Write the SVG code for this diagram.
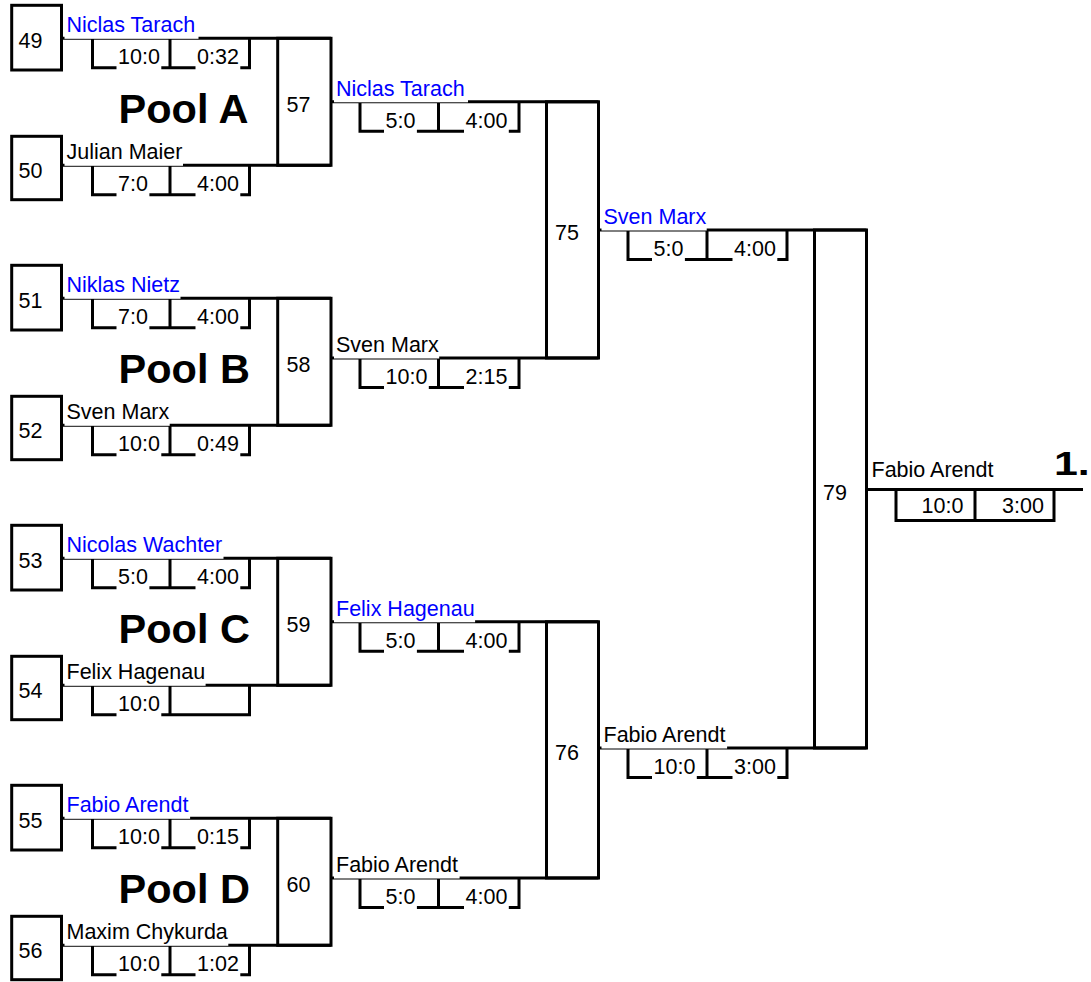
<svg xmlns="http://www.w3.org/2000/svg" width="1091" height="982" viewBox="0 0 1091 982">
<style>
.t{font-family:"Liberation Sans",Arial,sans-serif;font-size:21.5px;fill:#000}
.blue{fill:#0000ff}
.bg{fill:#fff}
.pool{font-weight:bold;font-size:41.5px}
.box{fill:none;stroke:#000;stroke-width:3}
.ln{fill:none;stroke:#000;stroke-width:3}
</style>
<rect width="1091" height="982" fill="#fff"/>

<g id="connectors" class="ln">
  <g id="round1">
    <path transform="translate(0,38.3)" d="M61.5 0H331M92.5 0V29.5H249.5V0M170 0V29.5"/>
    <path transform="translate(0,165.3)" d="M61.5 0H331M92.5 0V29.5H249.5V0M170 0V29.5"/>
    <path transform="translate(0,298.3)" d="M61.5 0H331M92.5 0V29.5H249.5V0M170 0V29.5"/>
    <path transform="translate(0,425.3)" d="M61.5 0H331M92.5 0V29.5H249.5V0M170 0V29.5"/>
    <path transform="translate(0,558.3)" d="M61.5 0H331M92.5 0V29.5H249.5V0M170 0V29.5"/>
    <path transform="translate(0,685.3)" d="M61.5 0H331M92.5 0V29.5H249.5V0M170 0V29.5"/>
    <path transform="translate(0,818.3)" d="M61.5 0H331M92.5 0V29.5H249.5V0M170 0V29.5"/>
    <path transform="translate(0,945.3)" d="M61.5 0H331M92.5 0V29.5H249.5V0M170 0V29.5"/>
  </g>
  <g id="round2">
    <path transform="translate(0,101.8)" d="M331 0H598.5M360 0V29.5H519V0M438.5 0V29.5"/>
    <path transform="translate(0,358)" d="M331 0H598.5M360 0V29.5H519V0M438.5 0V29.5"/>
    <path transform="translate(0,621.8)" d="M331 0H598.5M360 0V29.5H519V0M438.5 0V29.5"/>
    <path transform="translate(0,878)" d="M331 0H598.5M360 0V29.5H519V0M438.5 0V29.5"/>
  </g>
  <g id="round3">
    <path transform="translate(0,230)" d="M598.5 0H866.5M628 0V29.5H787V0M707 0V29.5"/>
    <path transform="translate(0,748)" d="M598.5 0H866.5M628 0V29.5H787V0M707 0V29.5"/>
  </g>
  <g id="final">
    <path d="M866.5 489.5H1083"/>
    <path d="M896 489.5V520.5H1054V489.5M975 489.5V520.5"/>
  </g>
</g>

<g id="seed-49"><rect class="box" x="11.7" y="5.3" width="49.8" height="64.7"/><text class="t" x="18.5" y="48.3">49</text></g>
<g id="seed-50"><rect class="box" x="11.7" y="136.3" width="49.8" height="63.4"/><text class="t" x="18.5" y="178.3">50</text></g>
<g id="seed-51"><rect class="box" x="11.7" y="265.3" width="49.8" height="64.7"/><text class="t" x="18.5" y="308.3">51</text></g>
<g id="seed-52"><rect class="box" x="11.7" y="396.3" width="49.8" height="63.4"/><text class="t" x="18.5" y="438.3">52</text></g>
<g id="seed-53"><rect class="box" x="11.7" y="525.3" width="49.8" height="64.7"/><text class="t" x="18.5" y="568.3">53</text></g>
<g id="seed-54"><rect class="box" x="11.7" y="656.3" width="49.8" height="63.4"/><text class="t" x="18.5" y="698.3">54</text></g>
<g id="seed-55"><rect class="box" x="11.7" y="785.3" width="49.8" height="64.7"/><text class="t" x="18.5" y="828.3">55</text></g>
<g id="seed-56"><rect class="box" x="11.7" y="916.3" width="49.8" height="63.4"/><text class="t" x="18.5" y="958.3">56</text></g>

<g id="match-57"><rect class="box" x="277.7" y="38.3" width="53.3" height="127"/><text class="t" x="286.5" y="111.8">57</text></g>
<g id="match-58"><rect class="box" x="277.7" y="298.3" width="53.3" height="127"/><text class="t" x="286.5" y="371.8">58</text></g>
<g id="match-59"><rect class="box" x="277.7" y="558.3" width="53.3" height="127"/><text class="t" x="286.5" y="631.8">59</text></g>
<g id="match-60"><rect class="box" x="277.7" y="818.3" width="53.3" height="127"/><text class="t" x="286.5" y="891.8">60</text></g>
<g id="match-75"><rect class="box" x="546.5" y="101.8" width="52" height="256.2"/><text class="t" x="555" y="240">75</text></g>
<g id="match-76"><rect class="box" x="546.5" y="621.8" width="52" height="256.2"/><text class="t" x="555" y="760">76</text></g>
<g id="match-79"><rect class="box" x="814.5" y="230" width="52" height="518"/><text class="t" x="823" y="499.5">79</text></g>

<g id="pools">
  <text class="t pool" x="118.5" y="122.8">Pool A</text>
  <text class="t pool" x="118.5" y="382.8">Pool B</text>
  <text class="t pool" x="118.5" y="642.8">Pool C</text>
  <text class="t pool" x="118.5" y="902.8">Pool D</text>
</g>

<g id="labels">
  <g transform="translate(0,38.3)">
    <rect class="bg" x="64.5" y="-24" width="134" height="24.5"/><text class="t blue" x="66.5" y="-6">Niclas Tarach</text>
    <rect class="bg" x="116.5" y="9" width="44.8" height="23"/><text class="t" x="118" y="26">10:0</text>
    <rect class="bg" x="195.5" y="9" width="44.8" height="23"/><text class="t" x="197" y="26">0:32</text>
  </g>
  <g transform="translate(0,165.3)">
    <rect class="bg" x="64.5" y="-24" width="118.5" height="24.5"/><text class="t" x="66.5" y="-6">Julian Maier</text>
    <rect class="bg" x="116.5" y="9" width="32.9" height="23"/><text class="t" x="118" y="26">7:0</text>
    <rect class="bg" x="195.5" y="9" width="44.8" height="23"/><text class="t" x="197" y="26">4:00</text>
  </g>
  <g transform="translate(0,298.3)">
    <rect class="bg" x="64.5" y="-24" width="116" height="24.5"/><text class="t blue" x="66.5" y="-6">Niklas Nietz</text>
    <rect class="bg" x="116.5" y="9" width="32.9" height="23"/><text class="t" x="118" y="26">7:0</text>
    <rect class="bg" x="195.5" y="9" width="44.8" height="23"/><text class="t" x="197" y="26">4:00</text>
  </g>
  <g transform="translate(0,425.3)">
    <rect class="bg" x="64.5" y="-24" width="105.2" height="24.5"/><text class="t" x="66.5" y="-6">Sven Marx</text>
    <rect class="bg" x="116.5" y="9" width="44.8" height="23"/><text class="t" x="118" y="26">10:0</text>
    <rect class="bg" x="195.5" y="9" width="44.8" height="23"/><text class="t" x="197" y="26">0:49</text>
  </g>
  <g transform="translate(0,558.3)">
    <rect class="bg" x="64.5" y="-24" width="159" height="24.5"/><text class="t blue" x="66.5" y="-6">Nicolas Wachter</text>
    <rect class="bg" x="116.5" y="9" width="32.9" height="23"/><text class="t" x="118" y="26">5:0</text>
    <rect class="bg" x="195.5" y="9" width="44.8" height="23"/><text class="t" x="197" y="26">4:00</text>
  </g>
  <g transform="translate(0,685.3)">
    <rect class="bg" x="64.5" y="-24" width="141.1" height="24.5"/><text class="t" x="66.5" y="-6">Felix Hagenau</text>
    <rect class="bg" x="116.5" y="9" width="44.8" height="23"/><text class="t" x="118" y="26">10:0</text>
  </g>
  <g transform="translate(0,818.3)">
    <rect class="bg" x="64.5" y="-24" width="125.6" height="24.5"/><text class="t blue" x="66.5" y="-6">Fabio Arendt</text>
    <rect class="bg" x="116.5" y="9" width="44.8" height="23"/><text class="t" x="118" y="26">10:0</text>
    <rect class="bg" x="195.5" y="9" width="44.8" height="23"/><text class="t" x="197" y="26">0:15</text>
  </g>
  <g transform="translate(0,945.3)">
    <rect class="bg" x="64.5" y="-24" width="163.8" height="24.5"/><text class="t" x="66.5" y="-6">Maxim Chykurda</text>
    <rect class="bg" x="116.5" y="9" width="44.8" height="23"/><text class="t" x="118" y="26">10:0</text>
    <rect class="bg" x="195.5" y="9" width="44.8" height="23"/><text class="t" x="197" y="26">1:02</text>
  </g>

  <g transform="translate(0,101.8)">
    <rect class="bg" x="334" y="-24" width="134" height="24.5"/><text class="t blue" x="336" y="-6">Niclas Tarach</text>
    <rect class="bg" x="384" y="9" width="32.9" height="23"/><text class="t" x="385.5" y="26">5:0</text>
    <rect class="bg" x="464" y="9" width="44.8" height="23"/><text class="t" x="465.5" y="26">4:00</text>
  </g>
  <g transform="translate(0,358)">
    <rect class="bg" x="334" y="-24" width="105.2" height="24.5"/><text class="t" x="336" y="-6">Sven Marx</text>
    <rect class="bg" x="384" y="9" width="44.8" height="23"/><text class="t" x="385.5" y="26">10:0</text>
    <rect class="bg" x="464" y="9" width="44.8" height="23"/><text class="t" x="465.5" y="26">2:15</text>
  </g>
  <g transform="translate(0,621.8)">
    <rect class="bg" x="334" y="-24" width="141.1" height="24.5"/><text class="t blue" x="336" y="-6">Felix Hagenau</text>
    <rect class="bg" x="384" y="9" width="32.9" height="23"/><text class="t" x="385.5" y="26">5:0</text>
    <rect class="bg" x="464" y="9" width="44.8" height="23"/><text class="t" x="465.5" y="26">4:00</text>
  </g>
  <g transform="translate(0,878)">
    <rect class="bg" x="334" y="-24" width="125.6" height="24.5"/><text class="t" x="336" y="-6">Fabio Arendt</text>
    <rect class="bg" x="384" y="9" width="32.9" height="23"/><text class="t" x="385.5" y="26">5:0</text>
    <rect class="bg" x="464" y="9" width="44.8" height="23"/><text class="t" x="465.5" y="26">4:00</text>
  </g>

  <g transform="translate(0,230)">
    <rect class="bg" x="601.5" y="-24" width="105.2" height="24.5"/><text class="t blue" x="603.5" y="-6">Sven Marx</text>
    <rect class="bg" x="652" y="9" width="32.9" height="23"/><text class="t" x="653.5" y="26">5:0</text>
    <rect class="bg" x="732.5" y="9" width="44.8" height="23"/><text class="t" x="734" y="26">4:00</text>
  </g>
  <g transform="translate(0,748)">
    <rect class="bg" x="601.5" y="-24" width="125.6" height="24.5"/><text class="t" x="603.5" y="-6">Fabio Arendt</text>
    <rect class="bg" x="652" y="9" width="44.8" height="23"/><text class="t" x="653.5" y="26">10:0</text>
    <rect class="bg" x="732.5" y="9" width="44.8" height="23"/><text class="t" x="734" y="26">3:00</text>
  </g>

  <g id="final-labels">
    <text class="t" x="871.5" y="477">Fabio Arendt</text>
    <text class="t" x="921.5" y="513">10:0</text>
    <text class="t" x="1002" y="513">3:00</text>
    <text class="t" style="font-weight:bold;font-size:33px" transform="translate(1054,475) scale(1.3,1)">1.</text>
  </g>
</g>
</svg>
